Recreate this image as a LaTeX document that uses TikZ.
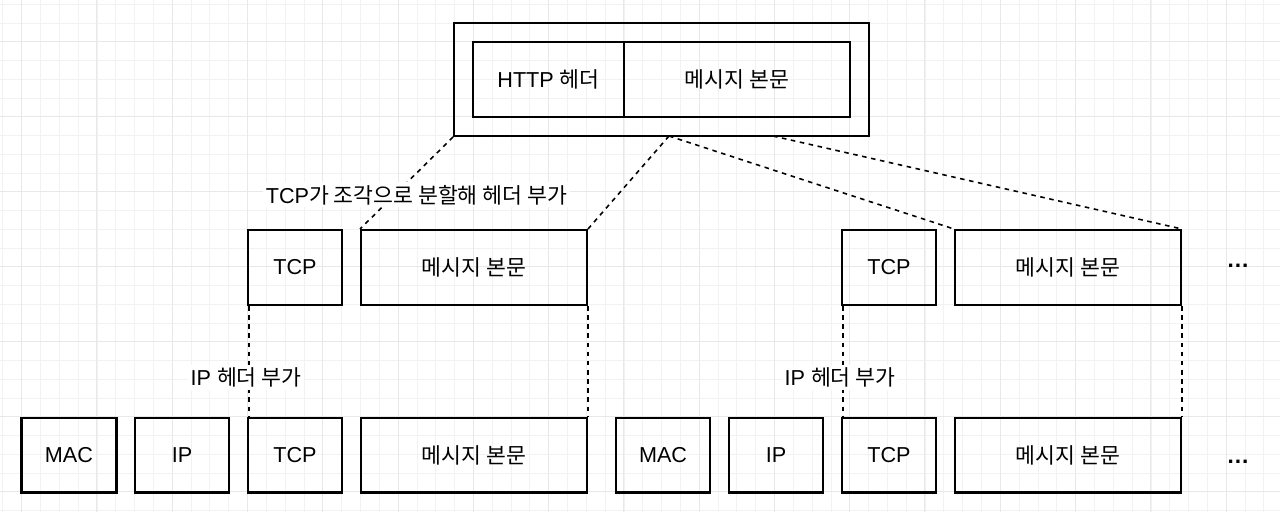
\documentclass[tikz,border=0pt]{standalone}
\usepackage{fontspec}
\setmainfont{Liberation Sans}
\newfontfamily\kr{Noto Sans CJK KR}
\usepackage{tikz}

\tikzset{
  box/.style={draw, line width=1.15pt, minimum height=1.5cm, inner sep=0pt},
  cut/.style={line width=0.9pt, dash pattern=on 2.6pt off 2.6pt},
  lbl/.style={fill=white, inner sep=1.5pt},
  more/.style={font=\fontsize{13pt}{15pt}\bfseries},
  minorgrid/.style={draw=black!5, line width=0.5pt},
  majorgrid/.style={draw=black!9, line width=0.6pt}
}

\begin{document}
\begin{tikzpicture}[x=0.02cm,y=-0.02cm,font=\fontsize{12.3pt}{14pt}\selectfont]
\useasboundingbox (0,0) rectangle (1280,512);
\fill[white] (0,0) rectangle (1280,512);
% grid
\foreach \k in {0,...,68}
  \draw[minorgrid] ({2.9+18.82*\k},0) -- ++(0,512);
\foreach \k in {0,...,27}
  \draw[minorgrid] (0,{4.2+18.75*\k}) -- ++(1280,0);
\foreach \k in {0,...,16}
  \draw[majorgrid] ({21.7+75.27*\k},0) -- ++(0,512);
\foreach \k in {0,...,6}
  \draw[majorgrid] (0,{41.7+75*\k}) -- ++(1280,0);

% HTTP message
\node[box, minimum width=8.3cm, minimum height=2.26cm] (pkt) at (661.5,79.5) {};
\node[box, minimum width=3.02cm] (httphd) at (548.5,79.5) {HTTP {\kr 헤더}};
\node[box, minimum width=4.52cm] (httpbody) at (737,79.5) {\kr 메시지 본문};

% TCP segments
\node[box, minimum width=1.88cm] (tcpa) at (295,267.5) {TCP};
\node[box, minimum width=4.52cm] (bodya) at (474,267.5) {\kr 메시지 본문};
\node[box, minimum width=1.88cm] (tcpb) at (889,267.5) {TCP};
\node[box, minimum width=4.52cm] (bodyb) at (1068,267.5) {\kr 메시지 본문};
\node[more] (morea) at (1238,266) {…};

% frames
\node[box, minimum width=1.9cm] (maca) at (69,455) {MAC};
\node[box, minimum width=1.88cm] (ipa) at (182,455) {IP};
\node[box, minimum width=1.88cm] (tcpa2) at (295,455) {TCP};
\node[box, minimum width=4.52cm] (bodya2) at (474,455) {\kr 메시지 본문};
\node[box, minimum width=1.88cm] (macb) at (663,455) {MAC};
\node[box, minimum width=1.88cm] (ipb) at (776,455) {IP};
\node[box, minimum width=1.88cm] (tcpb2) at (889,455) {TCP};
\node[box, minimum width=4.52cm] (bodyb2) at (1068,455) {\kr 메시지 본문};
\node[more] (moreb) at (1238,462) {…};

% splitting
\coordinate (cuta) at (669,136);
\coordinate (cutb) at (773,136);
\draw[cut] (pkt.south west) -- node[lbl, pos=0.63, xshift=0.44cm] (tcplbl) {TCP{\kr 가 조각으로 분할해 헤더 부가}} (bodya.north west);
\draw[cut] (cuta) -- (bodya.north east);
\draw[cut] (cuta) -- (bodyb.north west);
\draw[cut] (cutb) -- (bodyb.north east);

% adding IP header
\draw[cut] ([xshift=0.04cm]tcpa.south west) -- node[lbl, pos=0.65, xshift=-0.06cm] (iplbla) {IP {\kr 헤더 부가}} ([xshift=0.04cm]tcpa2.north west);
\draw[cut] (bodya.south east) -- (bodya2.north east);
\draw[cut] ([xshift=0.04cm]tcpb.south west) -- node[lbl, pos=0.65, xshift=-0.06cm] (iplblb) {IP {\kr 헤더 부가}} ([xshift=0.04cm]tcpb2.north west);
\draw[cut] (bodyb.south east) -- (bodyb2.north east);
\end{tikzpicture}
\end{document}
